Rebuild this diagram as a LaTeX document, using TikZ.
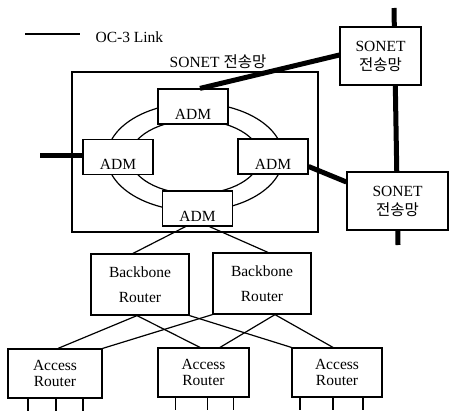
\documentclass[tikz,border=0pt]{standalone}
\usepackage{fontspec}
\setmainfont{Liberation Serif}
\newfontfamily\kr{Noto Sans CJK KR}
\usetikzlibrary{calc}
\def\ko#1{{\kr #1}}

\begin{document}
\begin{tikzpicture}[x=1pt, y=-1pt, line width=1.2pt,
  font=\fontsize{15.5}{19}\selectfont,
  box/.style={draw, fill=white, inner sep=0pt, align=center},
  adm/.style={box, minimum width=70pt, text height=30pt, text depth=5pt},
  sonet/.style={box, minimum height=58pt},
  bbrouter/.style={box, minimum width=98pt, minimum height=61pt, font=\fontsize{15.5}{25}\selectfont},
  acrouter/.style={box, minimum height=49pt, font=\fontsize{15.5}{16}\selectfont},
  oc3/.style={line width=5pt}]
\useasboundingbox (0,0) rectangle (449,410);

% legend
\coordinate (legA) at (25,34);
\coordinate (legB) at (80,34);
\draw (legA) -- (legB);
\node[anchor=west, inner sep=0pt] (leg) at (95,37) {OC-3 Link};

% SONET ring
\node[draw, minimum width=246pt, minimum height=160pt] (net) at (195,152) {};
\node[inner sep=0pt] (netlbl) at (218,62) {SONET \ko{전송망}};
\coordinate (ring) at (195,157);
\draw (ring) ellipse [x radius=88pt, y radius=54pt];
\draw (ring) ellipse [x radius=65pt, y radius=37pt];

% trunk on the right
\coordinate (trkA) at (394,8);
\coordinate (trkB) at (398,245);
\draw[oc3] (trkA) -- (trkB);

\node[adm] (admT) at (193,106.5) {ADM};
\node[adm] (admL) at (118,157) {ADM};
\node[adm] (admR) at (273,156.5) {ADM};
\node[adm] (admB) at (197.5,208.5) {ADM};

\node[sonet, minimum width=81pt] (sonT) at (380.5,56) {SONET\\\ko{전송망}};
\node[sonet, minimum width=101pt] (sonB) at (397.5,201) {SONET\\\ko{전송망}};

\coordinate (stubL) at (40,155);
\draw[oc3] ($(admT.north)+(7,0)$) -- ($(sonT.west)+(0,-1)$);
\draw[oc3] ($(admL.west)+(0,-2)$) -- (stubL);
\draw[oc3] ($(admR.east)+(0,10)$) -- ($(sonB.west)+(0,-19)$);

% routers
\node[bbrouter] (bbL) at (140,284.5) {Backbone\\Router};
\node[bbrouter] (bbR) at (262,283.5) {Backbone\\Router};
\node[acrouter, minimum width=94pt] (arL) at (55,373.5) {Access\\Router};
\node[acrouter, minimum width=91pt] (arM) at (203.5,372.5) {Access\\Router};
\node[acrouter, minimum width=90pt] (arR) at (337,372.5) {Access\\Router};

\draw ($(admB.south)+(-12,0)$) -- ($(bbL.north)+(-7,0)$);
\draw ($(admB.south)+(12,0)$) -- ($(bbR.north)+(6,0)$);

\draw ($(bbL.south)+(-3,0)$) -- ($(arL.north)+(3,0)$);
\draw ($(bbL.south)+(-3,0)$) -- ($(arM.north)+(-3.5,0)$);
\draw (bbL.south east) -- (arR.north west);
\draw (bbR.south west) -- (arL.north east);
\draw ($(bbR.south)+(13,0)$) -- ($(arM.north)+(16.5,0)$);
\draw ($(bbR.south)+(13,0)$) -- ($(arR.north)+(-4,0)$);

\foreach \n/\a/\b/\c in {arL/-27/1/28, arM/-28/4/30, arR/-37/-4/26}
  \foreach \d in {\a,\b,\c}
    \draw ($(\n.south)+(\d,0)$) -- +(0,12);
\end{tikzpicture}
\end{document}
